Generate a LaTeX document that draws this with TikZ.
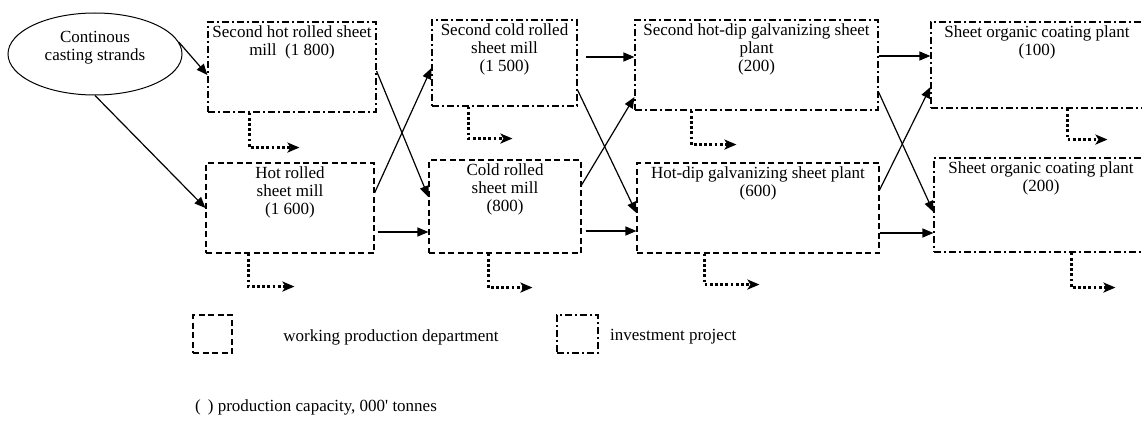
\documentclass[tikz,border=0pt]{standalone}
\usepackage{fontspec}
\setmainfont{Liberation Serif}
\usetikzlibrary{shapes.geometric,arrows.meta}

\begin{document}
\begin{tikzpicture}[x=1pt,y=-1pt]
\tikzstyle{every node}+=[inner sep=0pt, font=\fontsize{17}{18}\selectfont]
\tikzstyle{dashbox}=[draw, line width=1.1pt, dash pattern=on 6pt off 3.5pt]
\tikzstyle{dotdashbox}=[draw, line width=1.1pt, dash pattern=on 7pt off 3pt on 2pt off 3pt]
\tikzstyle{flow}=[line width=1.2pt, -{Triangle[length=11pt,width=9pt]}]
\tikzstyle{outflow}=[line width=2.8pt, dash pattern=on 2.8pt off 2.4pt, -{Stealth[length=12pt,width=10pt,inset=3pt]}]
\tikzstyle{plantname}=[anchor=north, align=center, inner sep=4pt]
\clip (0,0) rectangle (1142,420);

% source
\node [draw, ellipse, line width=1pt, minimum width=174pt, minimum height=82pt, align=center, text depth=16pt] (strands) at (95,54) {Continous\\casting strands};

% hot rolling
\node [dotdashbox, minimum width=168pt, minimum height=90pt, label={[plantname]north:{Second hot rolled sheet\\mill~~(1~800)}}] (hot2) at (292,67) {};
\node [dashbox, minimum width=168pt, minimum height=90pt, label={[plantname]north:{Hot rolled\\sheet mill\\(1~600)}}] (hot) at (290,208) {};

% cold rolling
\node [dotdashbox, minimum width=145pt, minimum height=86pt, label={[plantname]north:{Second cold rolled\\sheet mill\\(1~500)}}] (cold2) at (504.5,63) {};
\node [dashbox, minimum width=152pt, minimum height=93pt, label={[plantname]north:{Cold rolled\\sheet mill\\(800)}}] (cold) at (505,206.5) {};

% galvanizing
\node [dotdashbox, minimum width=243pt, minimum height=90pt, label={[plantname]north:{Second hot-dip galvanizing sheet\\plant\\(200)}}] (galv2) at (756.5,65) {};
\node [dashbox, minimum width=242pt, minimum height=90pt, label={[plantname]north:{Hot-dip galvanizing sheet plant\\(600)}}] (galv) at (758,208) {};

% organic coating
\node [dotdashbox, minimum width=212pt, minimum height=86pt, label={[plantname]north:{Sheet organic coating plant\\(100)}}] (coat1) at (1037,65) {};
\node [dotdashbox, minimum width=214pt, minimum height=94pt, label={[plantname]north:{Sheet organic coating plant\\(200)}}] (coat2) at (1041,205) {};

% material flows
\draw [flow] (strands.8) -- ([yshift=-8pt]hot2.west);
\draw [flow] (strands.south) -- (hot.west);
\draw [flow] ([yshift=-4pt]hot2.east) -- ([yshift=9.5pt]cold.west);
\draw [flow] ([yshift=15pt]hot.east) -- ([yshift=-5pt]cold2.west);
\draw [flow, shorten <=3pt] ([yshift=-24pt]hot.east) -- ([yshift=-25.5pt]cold.west);
\draw [flow, shorten <=8pt] ([yshift=6pt]cold2.east) -- ([yshift=8pt]galv2.west);
\draw [flow] ([yshift=-27pt]cold2.east) -- ([yshift=-5pt]galv.west);
\draw [flow] ([yshift=21.5pt]cold.east) -- ([yshift=-32pt]galv2.west);
\draw [flow, shorten <=4pt] ([yshift=-24.5pt]cold.east) -- ([yshift=-23pt]galv.west);
\draw [flow] ([yshift=9pt]galv2.east) -- ([yshift=9pt]coat1.west);
\draw [flow] ([yshift=-27pt]galv2.east) -- ([yshift=-7pt]coat2.west);
\draw [flow] ([yshift=18pt]galv.east) -- ([yshift=-22pt]coat1.west);
\draw [flow] ([yshift=-25pt]galv.east) -- ([yshift=-28pt]coat2.west);

% products out
\draw [outflow] ([xshift=42pt]hot2.south west) |- ++(50,35);
\draw [outflow] ([xshift=43pt]hot.south west) |- ++(46,33);
\draw [outflow] ([xshift=37pt]cold2.south west) |- ++(44,32);
\draw [outflow] ([xshift=60pt]cold.south west) |- ++(44,34);
\draw [outflow] ([xshift=57pt]galv2.south west) |- ++(45,34);
\draw [outflow] ([xshift=68pt]galv.south west) |- ++(55,31);
\draw [outflow] ([xshift=137pt]coat1.south west) |- ++(40,31);
\draw [outflow] ([xshift=138pt]coat2.south west) |- ++(44,35);

% legend
\node [dashbox, minimum width=39pt, minimum height=38pt] (keywork) at (212.5,334) {};
\node (keyworktext) at (391,337) {working production department};
\node [dotdashbox, minimum width=41pt, minimum height=38pt] (keyinvest) at (577.5,334) {};
\node [anchor=west] (keyinvesttext) at (610,337) {investment project};
\node [anchor=west] (capnote) at (195,407) {(\hspace{7pt}) production capacity, 000\textquotesingle{} tonnes};
\end{tikzpicture}
\end{document}
